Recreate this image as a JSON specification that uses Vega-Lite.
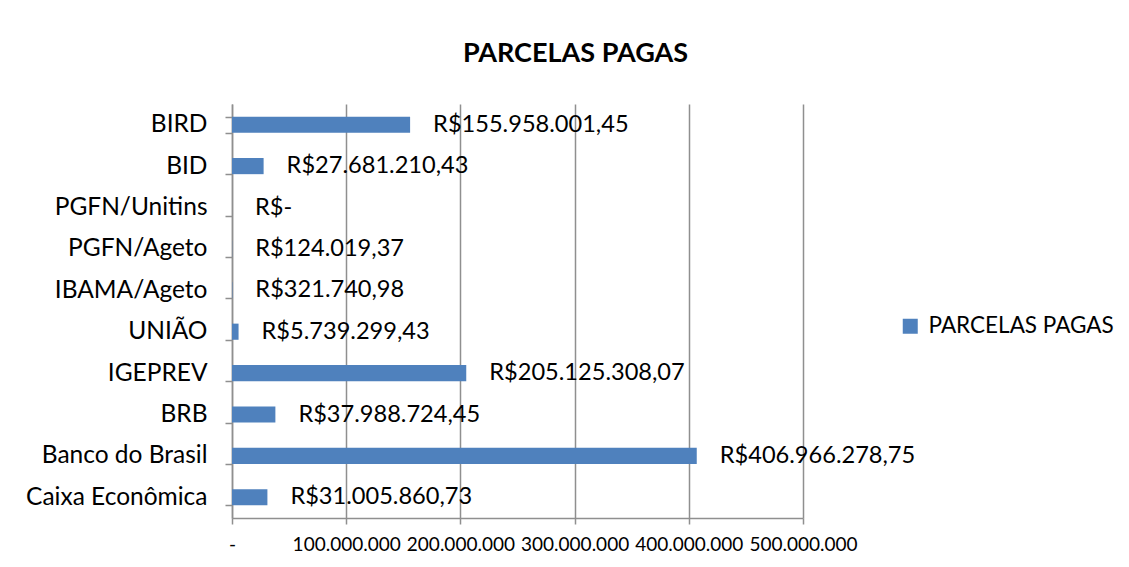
{
  "$schema": "https://vega.github.io/schema/vega-lite/v6.json",
  "width": 571,
  "height": 414,
  "autosize": {"type": "none"},
  "padding": {"left": 232, "top": 104, "right": 326, "bottom": 49},
  "background": "white",
  "title": {"text": "PARCELAS PAGAS", "font": "Lato", "fontSize": 27, "fontWeight": "bold", "color": "black", "anchor": "middle", "dx": 58, "offset": 23},
  "data": {"values": [
    {"entidade": "BIRD", "valor": 155958001.45, "rotulo": "R$155.958.001,45", "serie": "PARCELAS PAGAS"},
    {"entidade": "BID", "valor": 27681210.43, "rotulo": "R$27.681.210,43", "serie": "PARCELAS PAGAS"},
    {"entidade": "PGFN/Unitins", "valor": 0, "rotulo": "R$-", "serie": "PARCELAS PAGAS"},
    {"entidade": "PGFN/Ageto", "valor": 124019.37, "rotulo": "R$124.019,37", "serie": "PARCELAS PAGAS"},
    {"entidade": "IBAMA/Ageto", "valor": 321740.98, "rotulo": "R$321.740,98", "serie": "PARCELAS PAGAS"},
    {"entidade": "UNIÃO", "valor": 5739299.43, "rotulo": "R$5.739.299,43", "serie": "PARCELAS PAGAS"},
    {"entidade": "IGEPREV", "valor": 205125308.07, "rotulo": "R$205.125.308,07", "serie": "PARCELAS PAGAS"},
    {"entidade": "BRB", "valor": 37988724.45, "rotulo": "R$37.988.724,45", "serie": "PARCELAS PAGAS"},
    {"entidade": "Banco do Brasil", "valor": 406966278.75, "rotulo": "R$406.966.278,75", "serie": "PARCELAS PAGAS"},
    {"entidade": "Caixa Econômica", "valor": 31005860.73, "rotulo": "R$31.005.860,73", "serie": "PARCELAS PAGAS"}
  ]},
  "encoding": {
    "y": {
      "field": "entidade", "type": "nominal", "sort": null, "title": null,
      "scale": {"paddingInner": 0.61, "paddingOuter": 0.305},
      "axis": {"tickBand": "extent", "domainColor": "#8f8f8f", "domainWidth": 1.5, "tickColor": "#8f8f8f", "tickWidth": 1.5, "tickSize": 7, "labelFontSize": 24.5, "labelFont": "Lato", "labelColor": "black", "labelPadding": 18, "labelLimit": 300}
    },
    "x": {
      "field": "valor", "type": "quantitative", "title": null,
      "scale": {"domain": [0, 500000000], "nice": false},
      "axis": {"values": [0, 100000000, 200000000, 300000000, 400000000, 500000000], "format": ",.0f", "labelExpr": "datum.value == 0 ? '-' : datum.label", "grid": true, "gridColor": "#8f8f8f", "gridWidth": 1.5, "domainColor": "#8f8f8f", "domainWidth": 1.5, "tickColor": "#8f8f8f", "tickWidth": 1.5, "tickSize": 6, "labelFontSize": 19, "labelFont": "Lato", "labelColor": "black", "labelPadding": 11, "labelFlush": false}
    }
  },
  "layer": [
    {
      "mark": {"type": "bar"},
      "encoding": {
        "color": {"field": "serie", "type": "nominal", "scale": {"range": ["#4f81bd"]},
          "legend": {"title": null, "orient": "none", "legendX": 667, "legendY": 211, "padding": 0, "symbolType": "square", "symbolSize": 225, "symbolStrokeWidth": 0, "labelFontSize": 22.5, "labelFont": "Lato", "labelColor": "black", "labelOffset": 7, "labelLimit": 400}}
      }
    },
    {
      "mark": {"type": "text", "align": "left", "baseline": "middle", "dx": 23, "fontSize": 23.6, "font": "Lato", "color": "black"},
      "encoding": {"text": {"field": "rotulo"}}
    }
  ],
  "config": {
    "view": {"stroke": null},
    "locale": {"number": {"decimal": ",", "thousands": ".", "grouping": [3], "currency": ["R$", ""]}}
  }
}
